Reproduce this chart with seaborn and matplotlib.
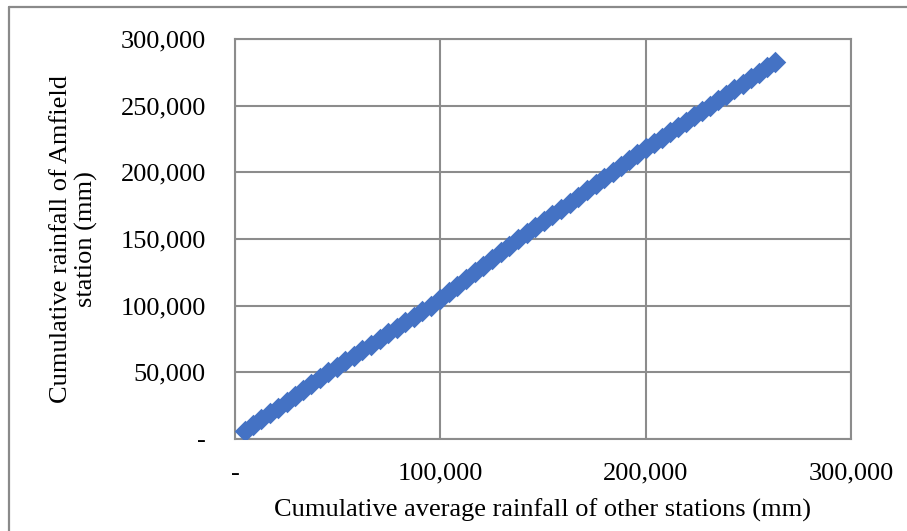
import numpy as np
import pandas as pd
import seaborn as sns
import matplotlib
matplotlib.use('Agg')
from matplotlib import pyplot as plt
from matplotlib.ticker import FuncFormatter
from matplotlib.lines import Line2D

# cumulative average rainfall of other stations (mm)
other_cum = [4900, 8900, 12900, 17000, 21000, 25100, 29100, 33100, 37200, 41300, 45300,
             49500, 53700, 57800, 62000, 66200, 70400, 74600, 78700, 82900, 87100, 91300, 95500,
             99700, 104000, 108200, 112400, 116700, 120900, 125100, 129400, 133600, 137800,
             142000, 146200, 150400, 154600, 158800, 163000, 167200, 171400, 175600, 179800, 184000,
             188000, 192000, 196000, 200000,
             203900, 207900, 211800, 215700, 219600, 223600, 227500, 231400,
             235300, 239300, 243200, 247200, 251100, 255100, 259000, 263000]
# cumulative rainfall of Amfield station (mm)
amfield_cum = [6000, 10400, 14800, 19300, 23600, 28000, 32400, 36700, 41100, 45600, 50000,
               54200, 58300, 62500, 66700, 70800, 75000, 79200, 83300, 87500, 91700, 95800, 100000,
               105000, 110000, 115000, 120000, 125000, 130000, 135000, 140000, 145000, 150000,
               154500, 159100, 163600, 168200, 172700, 177300, 181800, 186400, 190900, 195500, 200000,
               204500, 209000, 213500, 218000,
               222000, 226000, 230000, 234000, 238000, 242000, 246000, 250000,
               254100, 258200, 262300, 266400, 270500, 274600, 278700, 282800]

x_ticks = [0, 100000, 200000, 300000]
y_ticks = [0, 50000, 100000, 150000, 200000, 250000, 300000]

df = pd.DataFrame({'other': other_cum, 'amfield': amfield_cum})

sns.set_theme(style='whitegrid')
plt.rcParams['font.family'] = ['Liberation Serif', 'DejaVu Serif']

grid_col = '#8c8c8c'

fig = plt.figure(figsize=(9.07, 5.31), dpi=100)
ax = fig.add_axes([235/907, 1 - 439/531, (851 - 235)/907, (439 - 39)/531])

sns.scatterplot(data=df, x='other', y='amfield', marker='D', s=120,
                color='#4472C4', linewidth=0, ax=ax, zorder=3, legend=False)

def fmt(v, pos):
    if abs(v) < 1:
        return '-'
    return '{:,.0f}'.format(v)

ax.set_xlim(0, 300000)
ax.set_ylim(0, 300000)
ax.set_xticks(x_ticks)
ax.set_yticks(y_ticks)
ax.xaxis.set_major_formatter(FuncFormatter(fmt))
ax.yaxis.set_major_formatter(FuncFormatter(fmt))
ax.tick_params(axis='both', length=0, labelsize=19, colors='black')
ax.tick_params(axis='y', pad=21)
ax.tick_params(axis='x', pad=17)

ax.grid(True, color=grid_col, linewidth=1.5)
for sp in ax.spines.values():
    sp.set_visible(True)
    sp.set_color(grid_col)
    sp.set_linewidth(1.5)

ax.set_xlabel('Cumulative average rainfall of other stations (mm)', fontsize=19,
              color='black', labelpad=10)
ax.set_ylabel('Cumulative rainfall of Amfield\nstation (mm)', fontsize=19,
              color='black', labelpad=16, linespacing=1.2)

# outer chart frame (top and left edges visible)
fig.add_artist(Line2D([9/907, 1.0], [1 - 7/531, 1 - 7/531], color='#8a8a8a', linewidth=1.6))
fig.add_artist(Line2D([9/907, 9/907], [0.0, 1 - 7/531], color='#8a8a8a', linewidth=1.6))

fig.savefig('out.png', dpi=100, facecolor='white')
